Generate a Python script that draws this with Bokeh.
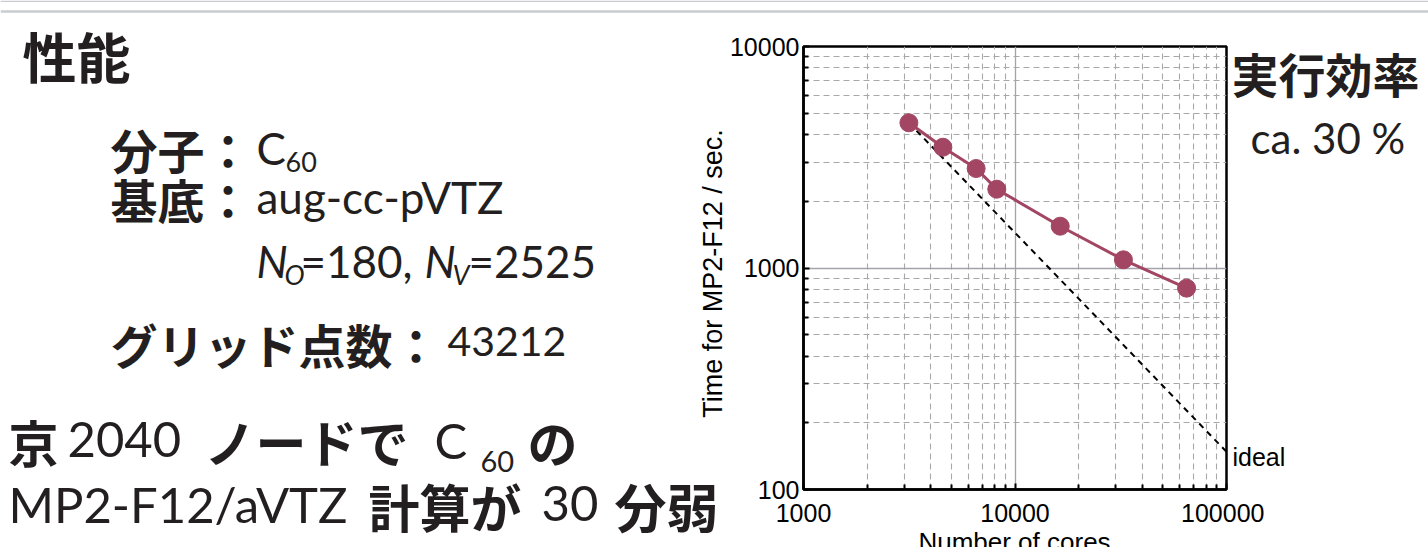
import math
from bokeh.plotting import figure
from bokeh.models import FixedTicker, Range1d, Span
from bokeh.layouts import row, column
from bokeh.core.properties import value
from bokeh.embed import file_html
from bokeh.resources import INLINE

# ---- data ----
cores = [3150, 4560, 6550, 8200, 16360, 32560, 64750]
times = [4524, 3510, 2813, 2269, 1544, 1089, 811]
ideal_cores = [3150, 100000]
ideal_times = [4524, 148]
x_ticks = [1000, 10000, 100000]
x_tick_labels = ["1000", "10000", "100000"]
y_ticks = [100, 1000, 10000]
y_tick_labels = ["100", "1000", "10000"]

PW, PH = 1428, 547
RULE_H = 13
LEFT_W = 726
CHART_R = 1264          # chart canvas right edge (room for the "100000" label)
RIGHT_X = 1228          # right text panel starts here (overlaps chart border)
CHART_B = 535           # chart canvas bottom
XLAB_TOP = 524          # x-axis title strip top (overlaps chart border)
TXT = "#231f20"
CJK = "Noto Sans CJK JP"
LAT = "Lato"
CHART = "Liberation Sans"
COL = "#a24663"


def blank(x0, x1, y0, y1, transparent=False):
    f = figure(width=x1 - x0, height=y1 - y0, x_range=Range1d(x0, x1), y_range=Range1d(y1, y0),
               output_backend="svg", toolbar_location=None,
               x_axis_location=None, y_axis_location=None,
               min_border=0, min_border_left=0, min_border_right=0,
               min_border_top=0, min_border_bottom=0, frame_align=False)
    f.grid.visible = False
    f.outline_line_color = None
    if transparent:
        f.background_fill_alpha = 0
        f.border_fill_alpha = 0
    else:
        f.background_fill_color = "white"
        f.border_fill_color = "white"
    return f


def txt(f, s, x, y, size, font, style="normal", color=TXT, baseline="middle", align="left", angle=0.0):
    f.text(x=[x], y=[y], text=[s], text_font=value(font), text_font_size=value(f"{size}px"),
           text_font_style=style, text_color=color, text_baseline=baseline,
           text_align=align, angle=angle)


# ---- thin slide rule across the top ----
rule = blank(0, PW, 0, RULE_H)
rule.add_layout(Span(location=0.7, dimension="width", line_color="#c9ccd1", line_width=1.5))
rule.add_layout(Span(location=11, dimension="width", line_color="#c9ccd1", line_width=2.5))

# ---- left text panel ----
left = blank(0, LEFT_W, RULE_H, PH)
txt(left, "性能", 22, 55, 54, CJK, "bold")
txt(left, "分子：", 110, 148, 47, CJK, "bold")
txt(left, "C", 256, 147, 44, LAT)
txt(left, "60", 285, 161, 27, LAT)
txt(left, "基底：", 110, 198, 47, CJK, "bold")
txt(left, "aug-cc-pVTZ", 256, 196, 44, LAT)
txt(left, "N", 256, 260, 44, LAT, "italic")
txt(left, "O", 284, 274, 27, LAT, "italic")
txt(left, "=180,", 300, 260, 44, LAT)
txt(left, "N", 424, 260, 44, LAT, "italic")
txt(left, "V", 452, 274, 27, LAT, "italic")
txt(left, "=2525", 468, 260, 44, LAT)
txt(left, "グリッド点数：", 110, 343, 47, CJK, "bold")
txt(left, "43212", 447, 341, 41, LAT)
txt(left, "京", 8, 440, 50, CJK, "bold")
txt(left, "2040", 67, 439, 49, LAT)
txt(left, "ノードで", 204, 440, 51, CJK, "bold")
txt(left, "C", 434, 439, 49, LAT)
txt(left, "60", 480, 461, 29, LAT)
txt(left, "の", 527, 440, 50, CJK, "bold")
txt(left, "MP2-F12/aVTZ", 8, 503, 49, LAT)
txt(left, "計算が", 368, 505, 51, CJK, "bold")
txt(left, "30", 541, 503, 49, LAT)
txt(left, "分弱", 614, 505, 52, CJK, "bold")
# y-axis title of the chart (sits left of the chart canvas)
txt(left, "Time for MP2-F12 / sec.", 712, 273, 27, CHART, color="black",
    align="center", angle=math.pi / 2)

# ---- chart ----
FT, FB = 46, 489            # frame top / bottom (page px)
FLp, FRp = 802, 1226        # frame left / right (page px)
p = figure(width=CHART_R - LEFT_W, height=CHART_B - RULE_H,
           x_axis_type="log", y_axis_type="log",
           x_range=Range1d(1000, 100000), y_range=Range1d(100, 10000),
           output_backend="svg", toolbar_location=None, frame_align=False,
           min_border_left=FLp - LEFT_W, min_border_right=CHART_R - FRp,
           min_border_top=FT - RULE_H, min_border_bottom=CHART_B - FB)
p.background_fill_color = "white"
p.border_fill_color = "white"
p.outline_line_color = "black"
p.outline_line_width = 2.5

minor_x = [m * d for d in (1000, 10000) for m in range(2, 10)]
minor_y = [m * d for d in (100, 1000) for m in range(2, 10)]
p.xaxis.ticker = FixedTicker(ticks=x_ticks, minor_ticks=minor_x)
p.yaxis.ticker = FixedTicker(ticks=y_ticks, minor_ticks=minor_y)
p.xaxis.major_label_overrides = {v: s for v, s in zip(x_ticks, x_tick_labels)}
p.yaxis.major_label_overrides = {v: s for v, s in zip(y_ticks, y_tick_labels)}

for ax in (p.xaxis[0], p.yaxis[0]):
    ax.axis_line_color = "black"
    ax.axis_line_width = 2.5
    ax.major_tick_in = 6
    ax.major_tick_out = 0
    ax.minor_tick_in = 5
    ax.minor_tick_out = 0
    ax.major_tick_line_color = "black"
    ax.major_tick_line_width = 2
    ax.minor_tick_line_color = "black"
    ax.minor_tick_line_width = 2
    ax.major_label_text_font = CHART
    ax.major_label_text_font_size = "25px"
    ax.major_label_text_color = "black"
p.xaxis.major_label_standoff = 14
p.yaxis.major_label_standoff = 4

for g in (p.xgrid[0], p.ygrid[0]):
    g.grid_line_color = "#a3a3ab"
    g.grid_line_width = 1.3
    g.minor_grid_line_color = "#a8a8a8"
    g.minor_grid_line_width = 1.1
    g.minor_grid_line_dash = "6 4"

p.line(ideal_cores, ideal_times, line_color="black", line_width=2, line_dash="6 5")
p.line(cores, times, line_color=COL, line_width=3)
p.scatter(cores, times, size=18, fill_color=COL, line_color=COL)

# x-axis title strip (transparent, overlapping the chart's bottom border;
# cut by the window edge, as in the reference)
xlab = blank(LEFT_W, CHART_R, XLAB_TOP, PH, transparent=True)
xlab.styles = {"margin-top": f"-{CHART_B - XLAB_TOP}px"}
txt(xlab, "Number of cores", (FLp + FRp) / 2, 526, 26, CHART, color="black",
    baseline="top", align="center")

# ---- right text panel (transparent, overlapping the chart's right border) ----
right = blank(RIGHT_X, PW, RULE_H, PH, transparent=True)
right.styles = {"margin-left": f"-{CHART_R - RIGHT_X}px"}
txt(right, "実行効率", 1231, 72, 47, CJK, "bold")
txt(right, "ca. 30 %", 1250, 137, 42, LAT)
txt(right, "ideal", 1232, 456, 25, CHART, color="black")

root = column(rule, row(left, column(p, xlab, spacing=0), right, spacing=0), spacing=0)

open("out.html", "w").write(file_html(root, INLINE))
